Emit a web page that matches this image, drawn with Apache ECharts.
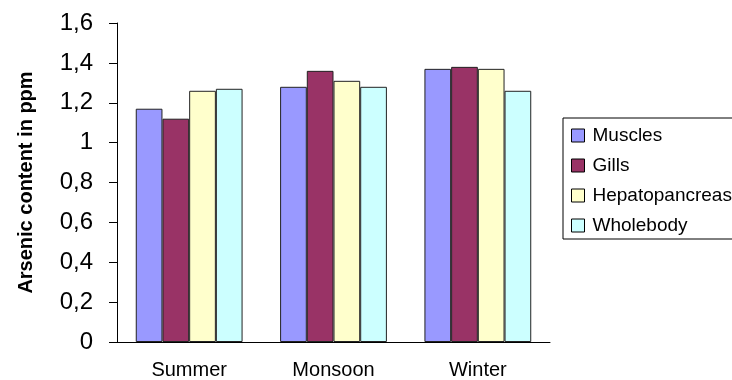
<!DOCTYPE html>
<html>
<head>
<meta charset="utf-8">
<script src="https://cdn.jsdelivr.net/npm/echarts@6/dist/echarts.min.js"></script>
<style>
  html, body { margin: 0; padding: 0; background: #fff; }
  #chart { width: 732px; height: 380px; }
</style>
</head>
<body>
<div id="chart"></div>
<script>
// Arsenic content (ppm) by season and tissue
const seasons = ['Summer', 'Monsoon', 'Winter'];
const muscles = [1.17, 1.28, 1.37];
const gills = [1.12, 1.36, 1.38];
const hepatopancreas = [1.26, 1.31, 1.37];
const wholebody = [1.27, 1.28, 1.26];
const yTicks = { min: 0, max: 1.6, interval: 0.2 };

const font = '"Liberation Sans", Arial, sans-serif';

function bar(name, data, color) {
  return {
    name: name,
    type: 'bar',
    data: data,
    barGap: '0%',
    barCategoryGap: '26%',
    itemStyle: { color: color, borderColor: '#222', borderWidth: 1 }
  };
}

const chart = echarts.init(document.getElementById('chart'), null, { renderer: 'canvas' });
chart.setOption({
  animation: false,
  backgroundColor: '#fff',
  textStyle: { fontFamily: font, color: '#000' },
  grid: { left: 117, right: 182, top: 23, bottom: 37 },
  legend: {
    orient: 'vertical',
    left: 563,
    top: 118,
    padding: [8, 10, 4, 8],
    itemGap: 11,
    itemWidth: 13,
    itemHeight: 13,
    icon: 'rect',
    borderColor: '#000',
    borderWidth: 1,
    textStyle: { fontFamily: font, fontSize: 19, color: '#000', padding: [0, 0, 0, 3] },
    itemStyle: { borderColor: '#000', borderWidth: 1 },
    data: ['Muscles', 'Gills', 'Hepatopancreas', 'Wholebody']
  },
  xAxis: {
    type: 'category',
    data: seasons,
    axisLine: { lineStyle: { color: '#000', width: 1 } },
    axisTick: { length: 8, lineStyle: { color: '#000' } },
    axisLabel: { margin: 18, fontSize: 20, color: '#000', fontFamily: font }
  },
  yAxis: {
    type: 'value',
    min: yTicks.min,
    max: yTicks.max,
    interval: yTicks.interval,
    name: 'Arsenic content in ppm',
    nameLocation: 'middle',
    nameRotate: 90,
    nameGap: 81,
    nameTextStyle: { fontFamily: font, fontSize: 20, fontWeight: 'bold', color: '#000' },
    splitLine: { show: false },
    axisLine: { show: true, lineStyle: { color: '#000', width: 1 } },
    axisTick: { show: true, length: 8, lineStyle: { color: '#000' } },
    axisLabel: {
      margin: 24,
      fontSize: 24,
      color: '#000',
      fontFamily: font,
      formatter: v => String(Math.round(v * 10) / 10).replace('.', ',')
    }
  },
  series: [
    bar('Muscles', muscles, '#9999FF'),
    bar('Gills', gills, '#993366'),
    bar('Hepatopancreas', hepatopancreas, '#FFFFCC'),
    bar('Wholebody', wholebody, '#CCFFFF')
  ]
});
</script>
</body>
</html>
